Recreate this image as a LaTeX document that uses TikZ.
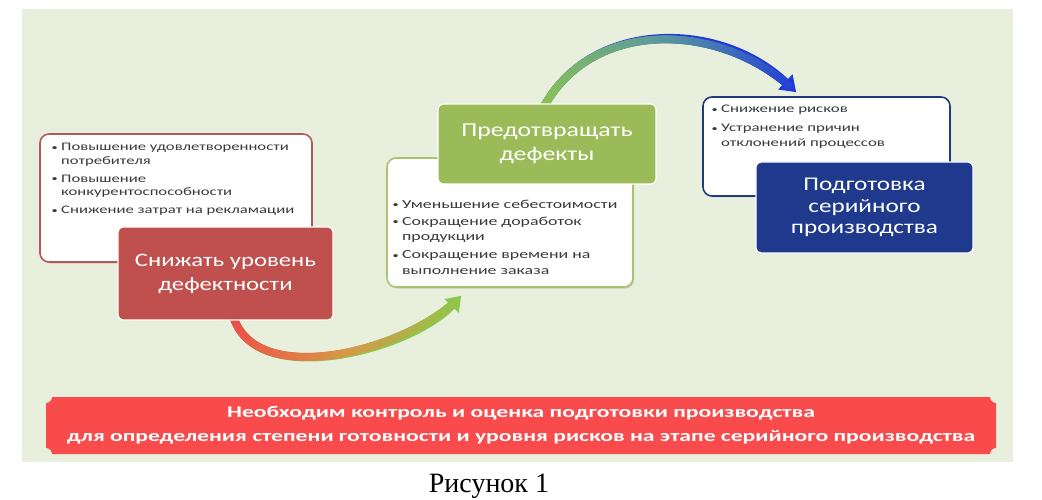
\documentclass[tikz,border=0pt]{standalone}
\usepackage{fontspec}
\setmainfont{Liberation Serif}
\newfontfamily\wfont[FakeStretch=1.3]{Carlito}
\newfontfamily\xfont[FakeStretch=1.45]{Carlito}
\usetikzlibrary{arrows.meta,decorations.markings,shadows,calc}
\pgfdeclarelayer{bg}
\pgfsetlayers{bg,main}
\definecolor{panel}{HTML}{E9EFDD}
\definecolor{redbox}{HTML}{C0504D}
\definecolor{greenbox}{HTML}{9BBB59}
\definecolor{bluebox}{HTML}{1F3A8C}
\definecolor{redline}{HTML}{B4585A}
\definecolor{greenline}{HTML}{A9C46E}
\definecolor{blueline}{HTML}{1F3B80}
\definecolor{bannerred}{HTML}{F94B4B}
\definecolor{bodytext}{HTML}{3A3A3A}
\definecolor{aRed}{HTML}{F04848}
\definecolor{aOra}{HTML}{D89848}
\definecolor{aGrn}{HTML}{8CC84A}
\definecolor{bGrn}{HTML}{8DC450}
\definecolor{bTeal}{HTML}{5A98A0}
\definecolor{bBlue}{HTML}{1F3CD8}
\newcommand\bulletmark{\makebox[10pt][l]{\hspace{0.5pt}\raisebox{0.6pt}{\fontsize{8.5}{8.5}\selectfont •}}}
\begin{document}
\begin{tikzpicture}[x=1pt,y=-1pt,
  wbox/.style={draw=#1, line width=1.6pt, fill=white, rounded corners=9pt, inner sep=0pt,
    drop shadow={shadow xshift=1.2pt, shadow yshift=-1.5pt, opacity=0.3}},
  tbox/.style={fill=#1, draw=white, line width=1.2pt, rounded corners=5pt, inner sep=0pt,
    text=white, align=center, font=\wfont\fontsize{19}{24}\selectfont},
  btext/.style={inner sep=0pt, anchor=base west, text=bodytext},
  grad/.style n args={3}{decorate, decoration={markings,
    mark=between positions 0 and -13pt step 0.7pt with {%
      \pgfmathsetmacro\pc{(\pgfkeysvalueof{/pgf/decoration/mark info/distance from start})/(\pgfdecoratedpathlength)*100}%
      \ifdim\pc pt<50pt \pgfmathsetmacro\qq{2*\pc}\fill[#2!\qq!#1] (0,0) circle (4pt);%
      \else \pgfmathsetmacro\qq{2*\pc-100}\fill[#3!\qq!#2] (0,0) circle (4pt);\fi}}}
]
\useasboundingbox (0,0) rectangle (1042,500);

% boxes
\node[wbox=redline, minimum width=272pt, minimum height=128pt] (lbox) at (176,198) {};
\node[btext, font=\xfont\fontsize{11.5}{13.5}\selectfont] (ltext) at (51,151)
 {\begin{tabular}[t]{@{}l@{}l@{}}
  \bulletmark & Повышение удовлетворенности\\
   & потребителя\\[4.5pt]
  \bulletmark & Повышение\\
   & конкурентоспособности\\[4.5pt]
  \bulletmark & Снижение затрат на рекламации
 \end{tabular}};
\node[tbox=redbox, minimum width=215pt, minimum height=93pt] (red) at (225.5,273.5)
 {Снижать уровень\\дефектности};

\node[wbox=greenline, minimum width=246pt, minimum height=129pt] (mbox) at (510,222.5) {};
\node[btext, font=\xfont\fontsize{12.3}{15.5}\selectfont] (mtext) at (392,208)
 {\begin{tabular}[t]{@{}l@{}l@{}}
  \bulletmark & Уменьшение себестоимости\\[2pt]
  \bulletmark & Сокращение доработок\\
   & продукции\\[2.5pt]
  \bulletmark & Сокращение времени на\\
   & выполнение заказа
 \end{tabular}};
\node[tbox=greenbox, minimum width=218pt, minimum height=80pt, font=\wfont\fontsize{19.8}{24}\selectfont] (green) at (547,144)
 {Предотвращать\\дефекты};

\node[wbox=blueline, minimum width=247pt, minimum height=99pt] (rbox) at (826.5,146.5) {};
\node[btext, font=\xfont\fontsize{11.6}{15}\selectfont] (rtext) at (711,113)
 {\begin{tabular}[t]{@{}l@{}l@{}}
  \bulletmark & Снижение рисков\\[4pt]
  \bulletmark & Устранение причин\\
   & отклонений процессов
 \end{tabular}};
\node[tbox=bluebox, minimum width=217pt, minimum height=91pt, font=\wfont\fontsize{19.4}{21.5}\selectfont] (blue) at (864.5,207.5)
 {Подготовка\\серийного\\производства};

% background: panel, banner, arrows
\begin{pgfonlayer}{bg}
\fill[panel] (22,9) rectangle (1013,462);
\fill[bannerred] (52,397) -- (990,397) arc[start angle=180,end angle=90,radius=6]
  -- (996,448) arc[start angle=270,end angle=180,radius=6]
  -- (52,454) arc[start angle=360,end angle=270,radius=6]
  -- (46,403) arc[start angle=90,end angle=0,radius=6] -- cycle;
\coordinate (s1) at ($(red.south)+(7.5,-5)$);
\coordinate (t1) at ($(mbox.south west)+(75,8)$);
\draw[line width=8pt, aGrn, -{Triangle[width=19pt,length=14pt]}]
  (s1) .. controls +(22,75) and +(-52,55) .. (t1);
\path[grad={aRed}{aOra}{aGrn}] (s1) .. controls +(22,75) and +(-52,55) .. (t1);
\coordinate (s2) at ($(green.north)+(-4,5)$);
\coordinate (t2) at ($(rbox.north west)+(94,-4)$);
\draw[line width=8pt, bBlue, -{Triangle[width=20pt,length=15pt]}]
  (s2) .. controls +(47,-89) and +(-77,-73) .. (t2);
\path[grad={bGrn}{bTeal}{bBlue}] (s2) .. controls +(47,-89) and +(-77,-73) .. (t2);
\end{pgfonlayer}

\node[inner sep=0pt, text=white, align=center, font=\xfont\bfseries\fontsize{16.3}{24}\selectfont] (ban) at (521,425.5)
 {Необходим контроль и оценка подготовки производства\\для определения степени готовности и уровня рисков на этапе серийного производства};

\node[inner sep=0pt, anchor=base, font=\fontsize{28}{30}\selectfont] (cap) at (489,492) {Рисунок 1};
\end{tikzpicture}
\end{document}
